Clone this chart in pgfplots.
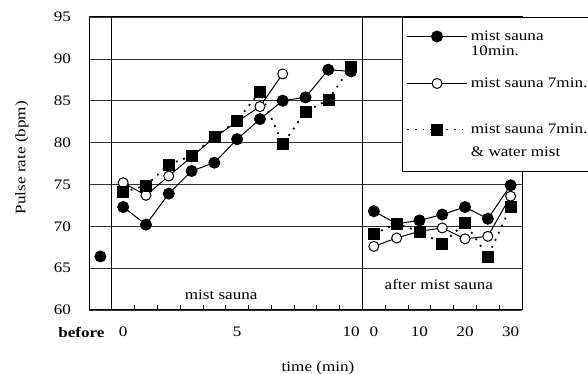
\documentclass[border=0pt]{standalone}
\usepackage{fontspec}
\setmainfont{Liberation Serif}[FakeStretch=1.18]
\usepackage{pgfplots}
\pgfplotsset{compat=1.18}
\begin{document}
\fontsize{14.5pt}{16pt}\selectfont
\begin{tikzpicture}
\useasboundingbox (0,0) rectangle (588pt,374pt);
\begin{axis}[
  at={(89pt,64pt)}, anchor=south west,
  width=433pt, height=293pt, scale only axis,
  xmin=-0.5, xmax=18.5, ymin=60, ymax=95,
  /pgf/number format/assume math mode=true,
  ytick={60,65,...,95},
  ymajorgrids, grid style={black!80, line width=0.6pt},
  ytick style={draw=none},
  yticklabel style={xshift=-13pt},
  xtick={1,6,11,12,14,16,18},
  xticklabels={0,5,10,0,10,20,30},
  xticklabel style={yshift=-12pt},
  major tick length=0pt,
  minor xtick={0.5,1.5,...,17.5},
  minor tick length=5pt,
  minor tick style={line width=0.8pt, black},
  xtick pos=bottom,
  extra x ticks={0},
  extra x tick labels={\textbf{before}},
  extra x tick style={xticklabel style={xshift=-19pt}, major tick length=0pt},
  axis line style={line width=1pt},
  unbounded coords=jump,
  xlabel={time (min)},
  xlabel style={at={(axis description cs:0.529,-0.198)}, anchor=center},
  ylabel={Pulse rate (bpm)},
  ylabel style={at={(axis description cs:-0.155,0.52)}, anchor=center},
  legend cell align=left,
  legend style={at={(rel axis cs:0.722,1)}, anchor=north west, draw=black, line width=1pt, fill=white, row sep=0pt, column sep=0pt, inner xsep=4pt, inner ysep=3pt,
    nodes={inner ysep=0pt, inner xsep=3pt}},
  legend image code/.code={\draw[mark repeat=2,mark phase=2,#1] plot coordinates {(0pt,4pt) (30pt,4pt) (60pt,4pt)};},
]
\draw[line width=1pt] (axis cs:0.5,60) -- (axis cs:0.5,95);
\draw[line width=1pt] (axis cs:11.5,60) -- (axis cs:11.5,95);
\node at (axis cs:5.3,61.8) {mist sauna};
\node at (axis cs:14.85,63.0) {after mist sauna};

\addplot[black, line width=1pt, mark=*, mark size=5.5pt, mark options={solid, fill=black}] coordinates {
 (0,66.4) (0.5,nan)
 (1,72.3) (2,70.2) (3,73.9) (4,76.6) (5,77.6) (6,80.4) (7,82.8) (8,85.0) (9,85.4) (10,88.7) (11,88.5)
 (11.5,nan)
 (12,71.8) (13,70.3) (14,70.7) (15,71.4) (16,72.3) (17,70.9) (18,74.9)
};
\addlegendentry[text height=20pt, text depth=4pt, anchor=base west]{mist sauna}
\addlegendimage{empty legend}
\addlegendentry[text height=11pt, text depth=4pt, anchor=base west]{10min.}

\addplot[black, line width=1pt, mark=*, mark size=5pt, mark options={solid, fill=white}] coordinates {
 (1,75.2) (2,73.7) (3,76.0) (4,78.3) (5,80.6) (6,82.5) (7,84.3) (8,88.2)
 (11.5,nan)
 (12,67.6) (13,68.6) (14,69.4) (15,69.8) (16,68.5) (17,68.8) (18,73.6)
};
\addlegendentry[text height=28pt, text depth=4pt, anchor=base west]{mist sauna 7min.}

\addplot[black, line width=1.8pt, dash pattern=on 1.8pt off 6pt, mark=square*, mark size=5.5pt, mark options={solid, fill=black, line width=0.5pt}] coordinates {
 (1,74.1) (2,74.85) (3,77.4) (4,78.4) (5,80.7) (6,82.6) (7,86.1) (8,79.8) (9,83.7) (10,85.1) (11,89.1)
 (11.5,nan)
 (12,69.1) (13,70.3) (14,69.4) (15,67.9) (16,70.4) (17,66.4) (18,72.3)
};
\addlegendentry[text height=42pt, text depth=4pt, anchor=base west]{mist sauna 7min.}
\addlegendimage{empty legend}
\addlegendentry[text height=19pt, text depth=12pt, anchor=base west]{\& water mist}
\end{axis}
\end{tikzpicture}
\end{document}
